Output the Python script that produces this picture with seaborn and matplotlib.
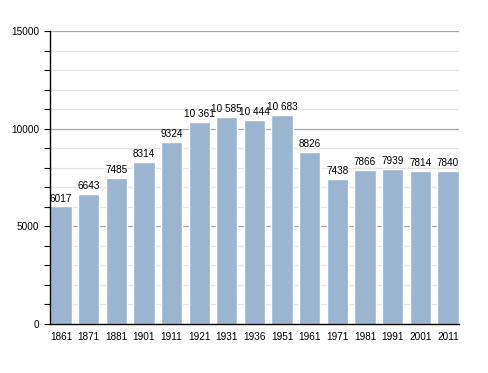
import pandas as pd
import matplotlib
matplotlib.use("Agg")
import matplotlib.pyplot as plt
import seaborn as sns
from matplotlib.ticker import MultipleLocator

# 数据
years = ["1861", "1871", "1881", "1901", "1911", "1921", "1931", "1936",
         "1951", "1961", "1971", "1981", "1991", "2001", "2011"]
population = [6017, 6643, 7485, 8314, 9324, 10361, 10585, 10444,
              10683, 8826, 7438, 7866, 7939, 7814, 7840]

df = pd.DataFrame({"year": years, "pop": population})

sns.set_style("white")
plt.rcParams['font.family'] = ['Liberation Sans', 'DejaVu Sans']

fig = plt.figure(figsize=(4.88, 3.73), dpi=100)
ax = fig.add_axes([0.1025, 0.1314, 0.838, 0.7855])

sns.barplot(data=df, x="year", y="pop", color="#9bb4d0", saturation=1,
            width=0.77, ax=ax)
for p in ax.patches:
    p.set_zorder(3)

ax.set_ylim(0, 15000)
ax.set_xlim(-0.4, 14.4)
ax.yaxis.set_major_locator(MultipleLocator(5000))
ax.yaxis.set_minor_locator(MultipleLocator(1000))
# 网格线画在柱子后面
for y in range(1000, 15001, 1000):
    col = "#a8a8a8" if y % 5000 == 0 else "#e6e6e6"
    ax.axhline(y, color=col, lw=0.9, zorder=1)

for s in ["top", "right"]:
    ax.spines[s].set_visible(False)
ax.spines["left"].set_color("black")
ax.spines["bottom"].set_color("black")
ax.spines["left"].set_linewidth(1)
ax.spines["bottom"].set_linewidth(1)
ax.spines["left"].set_zorder(4)
ax.spines["bottom"].set_zorder(4)

ax.tick_params(axis="y", which="both", left=True, length=4, width=0.8,
               color="black", labelsize=7.2, pad=4, labelcolor="black")
ax.tick_params(axis="x", bottom=False, labelsize=7.2, pad=2, labelcolor="black")
ax.set_xlabel("")
ax.set_ylabel("")

for i, v in enumerate(population):
    lab = f"{v:,}".replace(",", " ") if v >= 10000 else str(v)
    ax.text(i, v + 150, lab, ha="center", va="bottom", fontsize=7.2,
            color="black", zorder=5)

plt.savefig("out.png", dpi=100)
